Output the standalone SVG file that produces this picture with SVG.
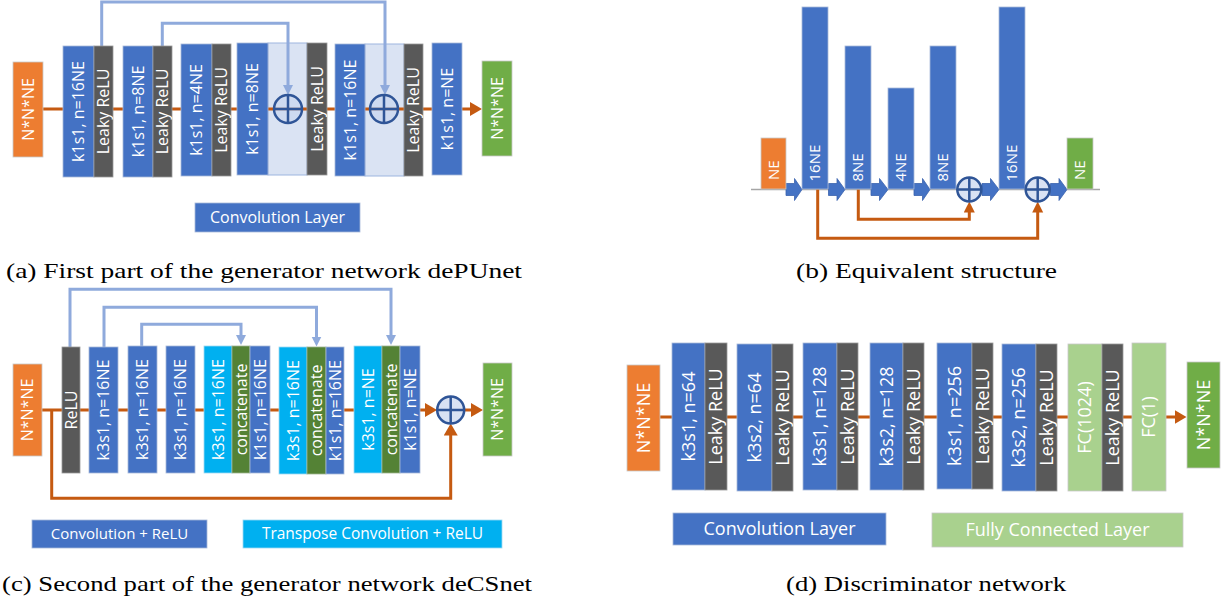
<svg xmlns="http://www.w3.org/2000/svg" width="1231" height="602" viewBox="0 0 1231 602">
<style>
.bl{fill:#4472C4;stroke:#A9B9DA;stroke-width:0.8}
.dk{fill:#595959;stroke:#9a9a9a;stroke-width:0.8}
.lt{fill:#DAE3F3;stroke:#9DB5DF;stroke-width:1}
.or{fill:#ED7D31;stroke:#c9c9c9;stroke-width:0.8}
.gr{fill:#70AD47;stroke:#c9c9c9;stroke-width:0.8}
.cy{fill:#00B0F0;stroke:#9fd9f3;stroke-width:0.8}
.cg{fill:#548235;stroke:#9fb38f;stroke-width:0.8}
.fc{fill:#A9D18E;stroke:#c9c9c9;stroke-width:0.8}
.t{font-family:"Open Sans","Noto Sans",sans-serif;fill:#ffffff;text-anchor:middle}
.st{text-anchor:start}
.s15{font-size:15px}.s16{font-size:16px}.s17{font-size:17px}.s18{font-size:18px}
.ol{fill:none;stroke:#C55A11;stroke-width:3}
.ll{fill:none;stroke:#8FAADC;stroke-width:3}
.gl{fill:none;stroke:#A6A6A6;stroke-width:1.5}
.ci{fill:#C9D6EE;fill-opacity:0.7;stroke:#2F5597;stroke-width:2.5}
.cx{stroke:#2F5597;stroke-width:2.5}
.cap{font-family:"Liberation Serif","Times New Roman",serif;font-size:22px;fill:#000}
.ba{fill:#4472C4;stroke:#3a62ad;stroke-width:0.8}
</style>
<defs>
<marker id="ao" markerUnits="userSpaceOnUse" markerWidth="14" markerHeight="14" refX="4" refY="7" orient="auto"><path d="M0,0 L12,7 L0,14 z" fill="#C55A11"/></marker>
<marker id="ao2" markerUnits="userSpaceOnUse" markerWidth="12" markerHeight="12" refX="4" refY="5.5" orient="auto"><path d="M0,0 L11,5.5 L0,11 z" fill="#C55A11"/></marker>
<marker id="al" markerUnits="userSpaceOnUse" markerWidth="12" markerHeight="12" refX="3" refY="5" orient="auto"><path d="M0,0 L10,5 L0,10 z" fill="#8FAADC"/></marker>
</defs>

<!-- ===== Panel (a) ===== -->
<g id="a-regions">
<rect class="lt" x="268" y="43" width="39" height="132"/>
<rect class="lt" x="365" y="44" width="39" height="132"/>
</g>
<g id="a-connectors">
<path class="ol" d="M43,109 H474" marker-end="url(#ao)"/>
<path class="ll" d="M101.7,46 V2 H385 V88" marker-end="url(#al)"/>
<path class="ll" d="M162.3,46 V23.3 H288 V88" marker-end="url(#al)"/>
</g>
<g id="a-input">
<rect class="or" x="13" y="62" width="30" height="95"/>
<text class="t s16" transform="translate(28,109.5) rotate(-90)" dy=".35em">N*N*NE</text>
</g>
<g id="a-b1">
<rect class="bl" x="63" y="46" width="31" height="131"/>
<rect class="dk" x="94" y="46" width="19" height="131"/>
<text class="t s16" transform="translate(78.5,111.5) rotate(-90)" dy=".35em">k1s1, n=16NE</text>
<text class="t s16" transform="translate(103.5,111.5) rotate(-90)" dy=".35em">Leaky ReLU</text>
</g>
<g id="a-b2">
<rect class="bl" x="123" y="46" width="30" height="131"/>
<rect class="dk" x="153" y="46" width="19" height="131"/>
<text class="t s16" transform="translate(138,111.5) rotate(-90)" dy=".35em">k1s1, n=8NE</text>
<text class="t s16" transform="translate(162.5,111.5) rotate(-90)" dy=".35em">Leaky ReLU</text>
</g>
<g id="a-b3">
<rect class="bl" x="181" y="44" width="31" height="132"/>
<rect class="dk" x="212" y="44" width="19" height="132"/>
<text class="t s16" transform="translate(196.5,110) rotate(-90)" dy=".35em">k1s1, n=4NE</text>
<text class="t s16" transform="translate(221.5,110) rotate(-90)" dy=".35em">Leaky ReLU</text>
</g>
<g id="a-b4">
<rect class="bl" x="237" y="43" width="31" height="132"/>
<rect class="dk" x="307" y="43" width="20" height="132"/>
<text class="t s16" transform="translate(252.5,109) rotate(-90)" dy=".35em">k1s1, n=8NE</text>
<text class="t s16" transform="translate(317,109) rotate(-90)" dy=".35em">Leaky ReLU</text>
<circle class="ci" cx="288" cy="109" r="14"/>
<path class="cx" d="M274,109 H302 M288,95 V123"/>
</g>
<g id="a-b5">
<rect class="bl" x="335" y="44" width="30" height="132"/>
<rect class="dk" x="404" y="44" width="19" height="132"/>
<text class="t s16" transform="translate(350,110) rotate(-90)" dy=".35em">k1s1, n=16NE</text>
<text class="t s16" transform="translate(413.5,110) rotate(-90)" dy=".35em">Leaky ReLU</text>
<circle class="ci" cx="384" cy="109" r="14"/>
<path class="cx" d="M370,109 H398 M384,95 V123"/>
</g>
<g id="a-b6">
<rect class="bl" x="432" y="43" width="30" height="132"/>
<text class="t s16" transform="translate(447,109) rotate(-90)" dy=".35em">k1s1, n=NE</text>
</g>
<g id="a-output">
<rect class="gr" x="482" y="61" width="30" height="95"/>
<text class="t s16" transform="translate(497,108.5) rotate(-90)" dy=".35em">N*N*NE</text>
</g>
<g id="a-legend">
<rect class="bl" x="195" y="203" width="165" height="29"/>
<text class="t s16" x="277.5" y="217.5" dy=".35em">Convolution Layer</text>
</g>
<text class="cap" x="6" y="278" textLength="516" lengthAdjust="spacingAndGlyphs">(a) First part of the generator network dePUnet</text>

<!-- ===== Panel (b) ===== -->
<g id="b-connectors">
<path class="gl" d="M751,189.5 H1100"/>
<path class="ol" d="M858.3,189.5 V219.3 H969.3 V208.5" marker-end="url(#ao2)"/>
<path class="ol" d="M817.7,189.5 V238.3 H1037.7 V208.5" marker-end="url(#ao2)"/>
<polygon class="ba" points="786,183.5 794.5,183.5 794.5,178.5 802,189.5 794.5,200.5 794.5,195.5 786,195.5"/>
<polygon class="ba" points="828.5,183.5 837,183.5 837,178.5 845,189.5 837,200.5 837,195.5 828.5,195.5"/>
<polygon class="ba" points="871,183.5 879.5,183.5 879.5,178.5 888,189.5 879.5,200.5 879.5,195.5 871,195.5"/>
<polygon class="ba" points="914,183.5 922.5,183.5 922.5,178.5 930,189.5 922.5,200.5 922.5,195.5 914,195.5"/>
<polygon class="ba" points="982,183.5 990.5,183.5 990.5,178.5 999,189.5 990.5,200.5 990.5,195.5 982,195.5"/>
<polygon class="ba" points="1050.5,183.5 1059,183.5 1059,178.5 1067,189.5 1059,200.5 1059,195.5 1050.5,195.5"/>
</g>
<g id="b-input">
<rect class="or" x="761" y="138" width="25" height="51"/>
<text class="t s15 st" transform="translate(773.5,180) rotate(-90)" dy=".35em">NE</text>
</g>
<g id="b-16a">
<rect class="bl" x="802" y="7" width="26" height="182"/>
<text class="t s15 st" transform="translate(815,181.5) rotate(-90)" dy=".35em">16NE</text>
</g>
<g id="b-8a">
<rect class="bl" x="845" y="46" width="26" height="143"/>
<text class="t s15 st" transform="translate(858,181.5) rotate(-90)" dy=".35em">8NE</text>
</g>
<g id="b-4">
<rect class="bl" x="888" y="88" width="26" height="101"/>
<text class="t s15 st" transform="translate(901,181.5) rotate(-90)" dy=".35em">4NE</text>
</g>
<g id="b-8b">
<rect class="bl" x="930" y="46" width="26" height="143"/>
<text class="t s15 st" transform="translate(943,181.5) rotate(-90)" dy=".35em">8NE</text>
</g>
<g id="b-add1">
<circle class="ci" cx="969.3" cy="189.5" r="12"/>
<path class="cx" d="M957.3,189.5 H981.3 M969.3,177.5 V201.5"/>
</g>
<g id="b-16b">
<rect class="bl" x="999" y="7" width="26" height="182"/>
<text class="t s15 st" transform="translate(1012,181.5) rotate(-90)" dy=".35em">16NE</text>
</g>
<g id="b-add2">
<circle class="ci" cx="1037.7" cy="189.5" r="12"/>
<path class="cx" d="M1025.7,189.5 H1049.7 M1037.7,177.5 V201.5"/>
</g>
<g id="b-output">
<rect class="gr" x="1067" y="138" width="26" height="51"/>
<text class="t s15 st" transform="translate(1080,180) rotate(-90)" dy=".35em">NE</text>
</g>
<text class="cap" x="796" y="278" textLength="261" lengthAdjust="spacingAndGlyphs">(b) Equivalent structure</text>

<!-- ===== Panel (c) ===== -->
<g id="c-connectors">
<path class="ol" d="M42,410 H429" marker-end="url(#ao)"/>
<path class="ol" d="M464,410 H475" marker-end="url(#ao)"/>
<path class="ol" d="M51.7,410 V498.3 H450.7 V431.5" marker-end="url(#ao)"/>
<path class="ll" d="M70,347 V289.3 H391 V338" marker-end="url(#al)"/>
<path class="ll" d="M104,347 V307.3 H316.5 V339.5" marker-end="url(#al)"/>
<path class="ll" d="M141.7,346 V324.3 H241 V338" marker-end="url(#al)"/>
</g>
<g id="c-input">
<rect class="or" x="13" y="364" width="29" height="92"/>
<text class="t s16" transform="translate(27.5,410) rotate(-90)" dy=".35em">N*N*NE</text>
</g>
<g id="c-relu">
<rect class="dk" x="62" y="347" width="18" height="126"/>
<text class="t s16" transform="translate(71,410) rotate(-90)" dy=".35em">ReLU</text>
</g>
<g id="c-b1">
<rect class="bl" x="89" y="347" width="29" height="126"/>
<text class="t s16" transform="translate(103.5,410) rotate(-90)" dy=".35em">k3s1, n=16NE</text>
</g>
<g id="c-b2">
<rect class="bl" x="128" y="346" width="29" height="127"/>
<text class="t s16" transform="translate(142.5,409.5) rotate(-90)" dy=".35em">k3s1, n=16NE</text>
</g>
<g id="c-b3">
<rect class="bl" x="166" y="346" width="29" height="127"/>
<text class="t s16" transform="translate(180.5,409.5) rotate(-90)" dy=".35em">k3s1, n=16NE</text>
</g>
<g id="c-b4">
<rect class="cy" x="204" y="346" width="28" height="127"/>
<rect class="cg" x="232" y="346" width="18" height="127"/>
<rect class="bl" x="250" y="346" width="20" height="127"/>
<text class="t s16" transform="translate(218,409.5) rotate(-90)" dy=".35em">k3s1, n=16NE</text>
<text class="t s16" transform="translate(241,409.5) rotate(-90)" dy=".35em">concatenate</text>
<text class="t s16" transform="translate(260,409.5) rotate(-90)" dy=".35em">k1s1, n=16NE</text>
</g>
<g id="c-b5">
<rect class="cy" x="279" y="347" width="28" height="127"/>
<rect class="cg" x="307" y="347" width="19" height="127"/>
<rect class="bl" x="326" y="347" width="18" height="127"/>
<text class="t s16" transform="translate(293,410.5) rotate(-90)" dy=".35em">k3s1, n=16NE</text>
<text class="t s16" transform="translate(316.5,410.5) rotate(-90)" dy=".35em">concatenate</text>
<text class="t s16" transform="translate(335,410.5) rotate(-90)" dy=".35em">k1s1, n=16NE</text>
</g>
<g id="c-b6">
<rect class="cy" x="354" y="346" width="28" height="127"/>
<rect class="cg" x="382" y="346" width="18" height="127"/>
<rect class="bl" x="400" y="346" width="20" height="127"/>
<text class="t s16" transform="translate(368,409.5) rotate(-90)" dy=".35em">k3s1, n=NE</text>
<text class="t s16" transform="translate(391,409.5) rotate(-90)" dy=".35em">concatenate</text>
<text class="t s16" transform="translate(410,409.5) rotate(-90)" dy=".35em">k1s1, n=NE</text>
</g>
<g id="c-add">
<circle class="ci" cx="450.7" cy="410" r="13.5"/>
<path class="cx" d="M437.2,410 H464.2 M450.7,396.5 V423.5"/>
</g>
<g id="c-output">
<rect class="gr" x="483" y="363" width="29" height="93"/>
<text class="t s16" transform="translate(497.5,409.5) rotate(-90)" dy=".35em">N*N*NE</text>
</g>
<g id="c-legend1">
<rect class="bl" x="32" y="520" width="175" height="28"/>
<text class="t s15" x="119.5" y="534" dy=".35em">Convolution + ReLU</text>
</g>
<g id="c-legend2">
<rect class="cy" x="243" y="520" width="259" height="28"/>
<text class="t" style="font-size:15.5px" x="372.5" y="534" dy=".35em">Transpose Convolution + ReLU</text>
</g>
<text class="cap" x="2" y="591" textLength="530" lengthAdjust="spacingAndGlyphs">(c) Second part of the generator network deCSnet</text>

<!-- ===== Panel (d) ===== -->
<g id="d-connectors">
<path class="ol" d="M660,417 H1178.5" marker-end="url(#ao)"/>
</g>
<g id="d-input">
<rect class="or" x="627" y="365" width="33" height="106"/>
<text class="t s18" transform="translate(643.5,418) rotate(-90)" dy=".35em">N*N*NE</text>
</g>
<g id="d-b1">
<rect class="bl" x="672" y="343" width="33" height="147"/>
<rect class="dk" x="705" y="343" width="22" height="147"/>
<text class="t s18" transform="translate(688.5,416.5) rotate(-90)" dy=".35em">k3s1, n=64</text>
<text class="t s18" transform="translate(716,416.5) rotate(-90)" dy=".35em">Leaky ReLU</text>
</g>
<g id="d-b2">
<rect class="bl" x="737" y="344" width="35" height="147"/>
<rect class="dk" x="772" y="344" width="21" height="147"/>
<text class="t s18" transform="translate(754.5,417.5) rotate(-90)" dy=".35em">k3s2, n=64</text>
<text class="t s18" transform="translate(782.5,417.5) rotate(-90)" dy=".35em">Leaky ReLU</text>
</g>
<g id="d-b3">
<rect class="bl" x="803" y="343" width="34" height="147"/>
<rect class="dk" x="837" y="343" width="21" height="147"/>
<text class="t s18" transform="translate(820,416.5) rotate(-90)" dy=".35em">k3s1, n=128</text>
<text class="t s18" transform="translate(847.5,416.5) rotate(-90)" dy=".35em">Leaky ReLU</text>
</g>
<g id="d-b4">
<rect class="bl" x="870" y="343" width="33" height="147"/>
<rect class="dk" x="903" y="343" width="21" height="147"/>
<text class="t s18" transform="translate(886.5,416.5) rotate(-90)" dy=".35em">k3s2, n=128</text>
<text class="t s18" transform="translate(913.5,416.5) rotate(-90)" dy=".35em">Leaky ReLU</text>
</g>
<g id="d-b5">
<rect class="bl" x="937" y="343" width="35" height="146"/>
<rect class="dk" x="972" y="343" width="21" height="146"/>
<text class="t s18" transform="translate(954.5,416) rotate(-90)" dy=".35em">k3s1, n=256</text>
<text class="t s18" transform="translate(982.5,416) rotate(-90)" dy=".35em">Leaky ReLU</text>
</g>
<g id="d-b6">
<rect class="bl" x="1002" y="344" width="34" height="147"/>
<rect class="dk" x="1036" y="344" width="21" height="147"/>
<text class="t s18" transform="translate(1019,417.5) rotate(-90)" dy=".35em">k3s2, n=256</text>
<text class="t s18" transform="translate(1046.5,417.5) rotate(-90)" dy=".35em">Leaky ReLU</text>
</g>
<g id="d-b7">
<rect class="fc" x="1068" y="344" width="34" height="147"/>
<rect class="dk" x="1102" y="344" width="21" height="147"/>
<text class="t s18" transform="translate(1085,417.5) rotate(-90)" dy=".35em">FC(1024)</text>
<text class="t s18" transform="translate(1112.5,417.5) rotate(-90)" dy=".35em">Leaky ReLU</text>
</g>
<g id="d-b8">
<rect class="fc" x="1132" y="343" width="34" height="148"/>
<text class="t s18" transform="translate(1149,417) rotate(-90)" dy=".35em">FC(1)</text>
</g>
<g id="d-output">
<rect class="gr" x="1187" y="362" width="33" height="106"/>
<text class="t s18" transform="translate(1203.5,415) rotate(-90)" dy=".35em">N*N*NE</text>
</g>
<g id="d-legend1">
<rect class="bl" x="673" y="513" width="213" height="32"/>
<text class="t s18" x="779.5" y="529" dy=".35em">Convolution Layer</text>
</g>
<g id="d-legend2">
<rect class="fc" x="932" y="513" width="251" height="34"/>
<text class="t s18" x="1057.5" y="530" dy=".35em">Fully Connected Layer</text>
</g>
<text class="cap" x="786" y="591" textLength="280" lengthAdjust="spacingAndGlyphs">(d) Discriminator network</text>
</svg>
